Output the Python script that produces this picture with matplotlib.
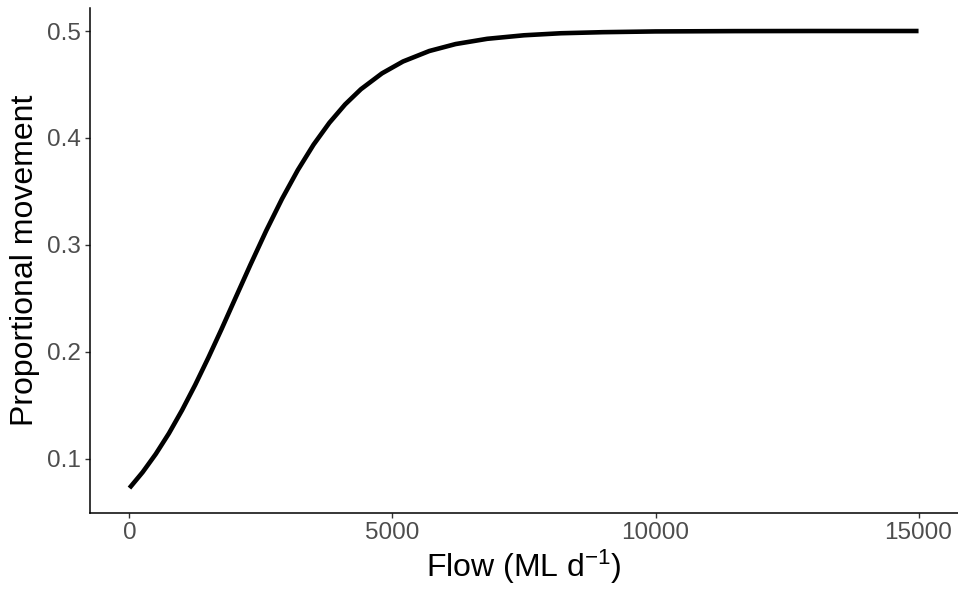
import matplotlib
matplotlib.use("Agg")
import matplotlib.pyplot as plt

flow = [0, 250, 500, 750, 1000, 1250, 1500, 1750, 2000, 2300, 2600, 2900,
        3200, 3500, 3800, 4100, 4400, 4800, 5200, 5700, 6200, 6800, 7500,
        8200, 9000, 10000, 11500, 13000, 15000]
movement = [0.0728, 0.0876, 0.1046, 0.1239, 0.1456, 0.1693, 0.1947, 0.2213,
            0.2488, 0.2816, 0.3134, 0.3431, 0.3700, 0.3938, 0.4142, 0.4314,
            0.4456, 0.4604, 0.4715, 0.4813, 0.4878, 0.4927, 0.4960, 0.4979,
            0.4989, 0.4996, 0.4999, 0.5000, 0.5000]
x_ticks = [0, 5000, 10000, 15000]
y_ticks = [0.1, 0.2, 0.3, 0.4, 0.5]

plt.rcParams['font.family'] = ['Liberation Sans', 'DejaVu Sans']
plt.rcParams['mathtext.fontset'] = 'custom'
plt.rcParams['mathtext.rm'] = 'Liberation Sans'
plt.rcParams['mathtext.it'] = 'Liberation Sans'
fig = plt.figure(figsize=(9.58, 5.90), dpi=100)
ax = fig.add_axes([90/958, 1-513/590, 1-90/958, (513-8)/590])
ax.plot(flow, movement, color='black', lw=3.3, solid_capstyle='butt',
        solid_joinstyle='round')
ax.set_xlim(-750, 15750)
ax.set_ylim(0.0495, 0.5215)
ax.set_xticks(x_ticks)
ax.set_xticklabels([str(t) for t in x_ticks])
ax.set_yticks(y_ticks)
ax.set_yticklabels([f"{t:.1f}" for t in y_ticks])
for s in ['top', 'right']:
    ax.spines[s].set_visible(False)
for s in ['left', 'bottom']:
    ax.spines[s].set_linewidth(1.1)
    ax.spines[s].set_color('black')
ax.tick_params(axis='both', length=3.5, width=1.0, color='#333333',
               labelcolor='#4D4D4D', labelsize=17.5, pad=3)
ax.set_xlabel('Flow (ML d$^{\\mathregular{\u22121}}$)', fontsize=23, labelpad=3)
ax.set_ylabel('Proportional movement', fontsize=23, labelpad=5)
fig.savefig('out.png', dpi=100)
